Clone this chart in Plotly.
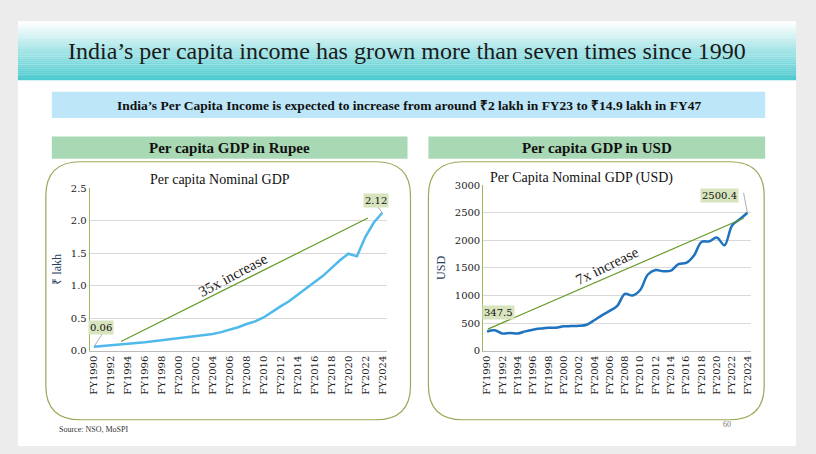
import plotly.graph_objects as go

years = [f"FY{y}" for y in range(1990, 2025)]
rupee = [0.06,0.07,0.08,0.09,0.10,0.115,0.13,0.145,0.16,0.175,0.19,0.20,0.215,0.23,0.255,0.285,0.32,0.36,0.41,0.45,
         0.51,0.60,0.68,0.76,0.86,0.95,1.05,1.15,1.27,1.39,1.49,1.45,1.75,1.97,2.12]
usd = [347.5,370,310,320,310,350,380,400,415,415,440,445,450,470,550,640,720,810,1030,1000,
       1100,1380,1460,1440,1450,1570,1590,1720,1970,1980,2050,1910,2270,2380,2500.4]
tick_labels = years[::2]

W, H = 816, 454
def px(x): return x / W
def py(y): return 1 - y / H

def rrect(x0, y0, x1, y1, r):
    return (f"M {px(x0+r)},{py(y0)} L {px(x1-r)},{py(y0)} Q {px(x1)},{py(y0)} {px(x1)},{py(y0+r)} "
            f"L {px(x1)},{py(y1-r)} Q {px(x1)},{py(y1)} {px(x1-r)},{py(y1)} "
            f"L {px(x0+r)},{py(y1)} Q {px(x0)},{py(y1)} {px(x0)},{py(y1-r)} "
            f"L {px(x0)},{py(y0+r)} Q {px(x0)},{py(y0)} {px(x0+r)},{py(y0)} Z")

fig = go.Figure()
fig.add_trace(go.Scatter(x=years, y=rupee, mode="lines", line=dict(color="#4fb9ea", width=2.5),
                         xaxis="x", yaxis="y", showlegend=False))
fig.add_trace(go.Scatter(x=years, y=usd, mode="lines", line=dict(color="#1f72bd", width=2.5, shape="spline"),
                         xaxis="x2", yaxis="y2", showlegend=False))

axfont = dict(family="DejaVu Serif", size=10, color="#222")
common_x = dict(type="category", tickmode="array", tickvals=tick_labels, ticktext=tick_labels,
                tickangle=-90, tickfont=axfont, showgrid=False, showline=True, linecolor="#bbb",
                ticks="", range=[-0.5, 34.5])
fig.update_layout(
    width=W, height=H, margin=dict(l=0, r=0, t=0, b=0),
    paper_bgcolor="#ececec", plot_bgcolor="rgba(0,0,0,0)",
    xaxis=dict(domain=[px(88), px(386)], anchor="y", **common_x),
    yaxis=dict(domain=[py(354), py(187)], range=[0, 2.5], dtick=0.5, tickformat=".1f",
               tickfont=axfont, gridcolor="#d9d9d9", showline=True, linecolor="#9bbb59", zeroline=False,
               title=dict(text="₹ lakh", font=dict(family="Liberation Serif", size=12), standoff=6), anchor="x"),
    xaxis2=dict(domain=[px(483), px(752)], anchor="y2", **common_x),
    yaxis2=dict(domain=[py(354), py(184)], range=[0, 3000], dtick=500,
                tickfont=axfont, gridcolor="#d9d9d9", showline=True, linecolor="#9bbb59", zeroline=False,
                title=dict(text="USD", font=dict(family="Liberation Serif", size=12), standoff=6), anchor="x2"),
)

shapes = [
    dict(type="rect", xref="paper", yref="paper", x0=px(16), x1=px(797), y0=py(452), y1=py(16),
         fillcolor="white", line=dict(width=0), layer="below"),
    dict(type="rect", xref="paper", yref="paper", x0=px(50), x1=px(766), y0=py(115), y1=py(88),
         fillcolor="#bde6f8", line=dict(width=0), layer="below"),
    dict(type="rect", xref="paper", yref="paper", x0=px(50), x1=px(407), y0=py(157), y1=py(134),
         fillcolor="#a8d8b4", line=dict(width=0), layer="below"),
    dict(type="rect", xref="paper", yref="paper", x0=px(428), x1=px(766), y0=py(157), y1=py(134),
         fillcolor="#a8d8b4", line=dict(width=0), layer="below"),
    dict(type="path", xref="paper", yref="paper", path=rrect(44, 160, 410, 425, 35),
         line=dict(color="#9aa95a", width=1.2), layer="below"),
    dict(type="path", xref="paper", yref="paper", path=rrect(428, 160, 765, 425, 35),
         line=dict(color="#9aa95a", width=1.2), layer="below"),
    dict(type="line", xref="x", yref="y", x0=3.2, y0=0.14, x1=32.3, y1=2.04, line=dict(color="#6a9a2a", width=1.2)),
    dict(type="line", xref="x2", yref="y2", x0=0.1, y0=390, x1=33.5, y1=2400, line=dict(color="#6a9a2a", width=1.2)),
    dict(type="line", xref="x", yref="y", x0=0, y0=0.06, x1=1.2, y1=0.3, line=dict(color="#999", width=0.8)),
    dict(type="line", xref="x", yref="y", x0=34, y0=2.12, x1=33.2, y1=2.26, line=dict(color="#999", width=0.8)),
    dict(type="line", xref="x2", yref="y2", x0=34, y0=2500.4, x1=33.5, y1=2860, line=dict(color="#999", width=0.8)),
]
for i in range(30):
    t = i / 29
    r = int(255 + (78 - 255) * t); g = int(255 + (203 - 255) * t); b = int(255 + (208 - 255) * t)
    y0 = 16 + i * 2; y1 = y0 + 2.2
    shapes.append(dict(type="rect", xref="paper", yref="paper", x0=px(16), x1=px(797), y0=py(y1), y1=py(y0),
                       fillcolor=f"rgb({r},{g},{b})", line=dict(width=0), layer="below"))
fig.update_layout(shapes=shapes)

serif = "Liberation Serif"
ann = [
    dict(x=px(406), y=py(46), text="India’s per capita income has grown more than seven times since 1990",
         font=dict(family=serif, size=24, color="#1a1a1a")),
    dict(x=px(408), y=py(102), text="<b>India’s Per Capita Income is expected to increase from around ₹2 lakh in FY23 to ₹14.9 lakh in FY47</b>",
         font=dict(family=serif, size=13.5, color="#111")),
    dict(x=px(228), y=py(146), text="<b>Per capita GDP in Rupee</b>", font=dict(family=serif, size=15, color="#111")),
    dict(x=px(597), y=py(146), text="<b>Per capita GDP in USD</b>", font=dict(family=serif, size=15, color="#111")),
    dict(x=px(219), y=py(178), text="Per capita Nominal GDP", font=dict(family=serif, size=14, color="#111")),
    dict(x=px(582), y=py(177), text="Per Capita Nominal GDP (USD)", font=dict(family=serif, size=14, color="#111")),
    dict(x=px(232), y=py(276), text="35x increase", textangle=-28, font=dict(family=serif, size=15, color="#222")),
    dict(x=px(607), y=py(267), text="7x increase", textangle=-26, font=dict(family=serif, size=15, color="#222")),
    dict(x=px(99), y=py(330), text="0.06", bgcolor="#d7e4bd", font=dict(family="DejaVu Serif", size=10, color="#111")),
    dict(x=px(375), y=py(200), text="2.12", bgcolor="#d7e4bd", font=dict(family="DejaVu Serif", size=10, color="#111")),
    dict(x=px(498), y=py(315), text="347.5", bgcolor="#d7e4bd", font=dict(family="DejaVu Serif", size=10, color="#111")),
    dict(x=px(720), y=py(195), text="2500.4", bgcolor="#d7e4bd", font=dict(family="DejaVu Serif", size=10, color="#111")),
    dict(x=px(55), y=py(435), text="Source: NSO, MoSPI", xanchor="left", font=dict(family=serif, size=8, color="#333")),
    dict(x=px(728), y=py(430), text="60", font=dict(family=serif, size=8, color="#777")),
]
for a in ann:
    a.setdefault("xanchor", "center")
    a.update(xref="paper", yref="paper", showarrow=False, yanchor="middle")
fig.update_layout(annotations=ann)

fig.write_html("out.html", config={"responsive": False, "displayModeBar": False},
               post_script="document.body.style.margin='0';document.body.style.overflow='hidden';")
